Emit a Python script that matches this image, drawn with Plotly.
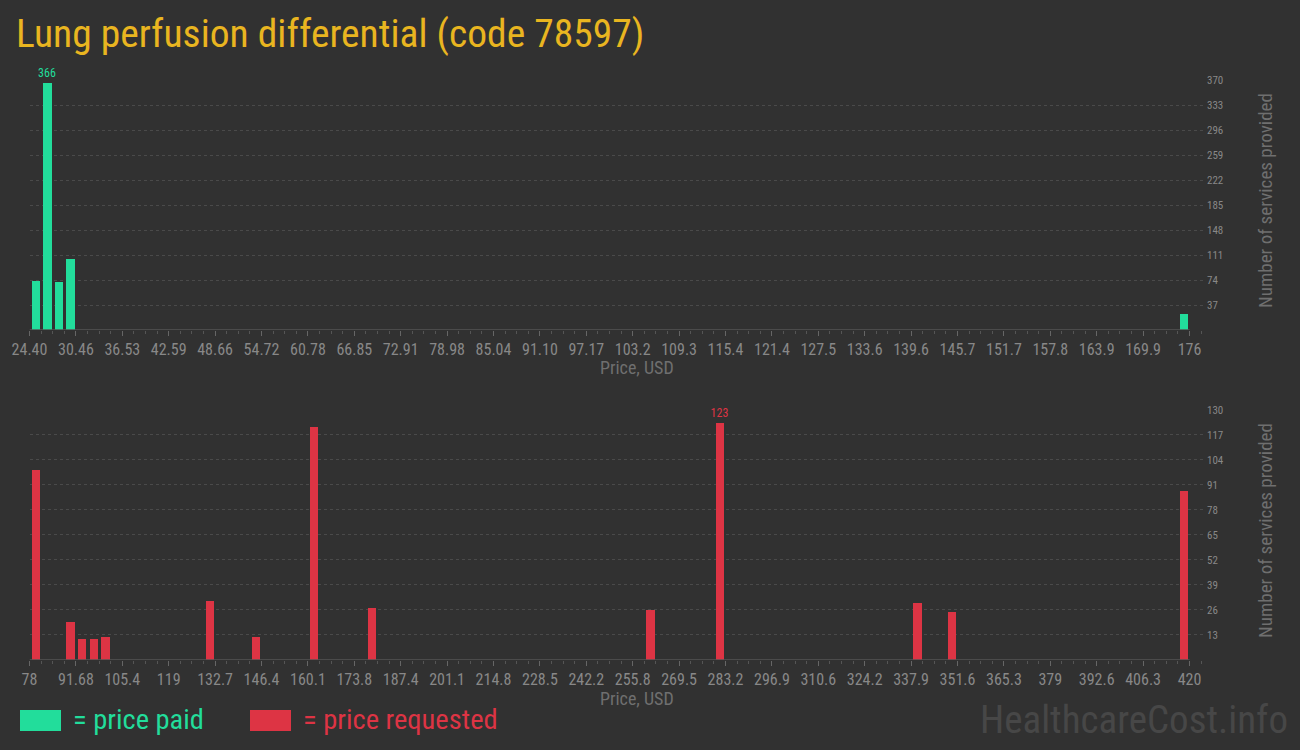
import numpy as np
import plotly.graph_objects as go

# ---------------- data ----------------
title_text = "Lung perfusion differential (code 78597)"

paid_price = [25.16, 26.67, 28.19, 29.71, 175.24]
paid_count = [72, 366, 71, 105, 24]

req_price = [79.71, 89.97, 93.39, 96.81, 100.23, 131.01, 144.69, 161.79,
             178.89, 260.97, 281.49, 339.63, 349.89, 418.29]
req_count = [99, 20, 11, 11, 12, 31, 12, 121, 27, 26, 123, 30, 25, 88]

paid_ticklabels = ["24.40", "30.46", "36.53", "42.59", "48.66", "54.72", "60.78",
                   "66.85", "72.91", "78.98", "85.04", "91.10", "97.17", "103.2",
                   "109.3", "115.4", "121.4", "127.5", "133.6", "139.6", "145.7",
                   "151.7", "157.8", "163.9", "169.9", "176"]
req_ticklabels = ["78", "91.68", "105.4", "119", "132.7", "146.4", "160.1", "173.8",
                  "187.4", "201.1", "214.8", "228.5", "242.2", "255.8", "269.5",
                  "283.2", "296.9", "310.6", "324.2", "337.9", "351.6", "365.3",
                  "379", "392.6", "406.3", "420"]
paid_yticks = [37, 74, 111, 148, 185, 222, 259, 296, 333, 370]
req_yticks = [13, 26, 39, 52, 65, 78, 91, 104, 117, 130]

# ---------------- styling ----------------
W, H = 1300, 750
BG = "#313131"
GREEN = "#22dd9b"
RED = "#dd3444"
GOLD = "#e9b520"
TICK = "#888888"
AXT = "#6f6f6f"
GRID = "#4a4a4a"
COND = "Roboto Condensed, Liberation Sans Narrow, DejaVu Sans Condensed, Arial Narrow, Roboto, sans-serif"

def px_x(p):
    return p / W

def px_y(p):
    return 1 - p / H

paid_lo, paid_hi = float(paid_ticklabels[0]), float(paid_ticklabels[-1])
req_lo, req_hi = float(req_ticklabels[0]), float(req_ticklabels[-1])
paid_tickvals = np.linspace(paid_lo, paid_hi, len(paid_ticklabels))
req_tickvals = np.linspace(req_lo, req_hi, len(req_ticklabels))

left_px, axis_end_px, grid_end_px = 29.5, 1189.5, 1206
paid_range_hi = paid_hi + (grid_end_px - axis_end_px) * (paid_hi - paid_lo) / (axis_end_px - left_px)
req_range_hi = req_hi + (grid_end_px - axis_end_px) * (req_hi - req_lo) / (axis_end_px - left_px)

paid_binw = (paid_hi - paid_lo) / 100
req_binw = (req_hi - req_lo) / 100

def max_labels(vals):
    m = max(vals)
    return [str(v) if v == m else "" for v in vals]

fig = go.Figure()
fig.add_trace(go.Bar(x=paid_price, y=paid_count, width=paid_binw * 0.74,
                     marker=dict(color=GREEN, line=dict(width=0)),
                     text=max_labels(paid_count), textposition="outside",
                     constraintext="none",
                     textfont=dict(color=GREEN, size=12, family=COND),
                     cliponaxis=False, xaxis="x", yaxis="y", hoverinfo="x+y"))
fig.add_trace(go.Bar(x=req_price, y=req_count, width=req_binw * 0.74,
                     marker=dict(color=RED, line=dict(width=0)),
                     text=max_labels(req_count), textposition="outside",
                     constraintext="none",
                     textfont=dict(color=RED, size=12, family=COND),
                     cliponaxis=False, xaxis="x2", yaxis="y2", hoverinfo="x+y"))

xdom = [px_x(left_px), px_x(grid_end_px)]

def xaxis_cfg(rng, tv, tl, step, anchor):
    return dict(domain=xdom, range=rng, anchor=anchor, tickmode="array",
                tickvals=tv, ticktext=tl, showgrid=False, zeroline=False,
                showline=False, ticks="outside", ticklen=5, tickcolor="#666666",
                automargin=False,
                tickfont=dict(family=COND, size=16, color=TICK),
                minor=dict(ticks="outside", ticklen=3, tickcolor="#555555",
                           dtick=step / 4, tick0=rng[0], showgrid=False),
                fixedrange=True)

def yaxis_cfg(dom, rng, tv, anchor):
    return dict(domain=dom, range=rng, anchor=anchor, side="right",
                tickmode="array", tickvals=tv, showgrid=True, gridcolor=GRID,
                griddash="3px,3px", gridwidth=1, zeroline=False, showline=False,
                ticks="", automargin=False,
                tickfont=dict(family=COND, size=11, color=TICK),
                fixedrange=True)

fig.update_layout(
    template="none",
    width=W, height=H, paper_bgcolor=BG, plot_bgcolor=BG,
    margin=dict(l=0, r=0, t=0, b=0, pad=0), showlegend=False, bargap=0,
    xaxis=xaxis_cfg([paid_lo, paid_range_hi], paid_tickvals, paid_ticklabels,
                    (paid_hi - paid_lo) / 25, "y"),
    yaxis=yaxis_cfg([px_y(330), px_y(80)], [0, max(paid_yticks)], paid_yticks, "x"),
    xaxis2=xaxis_cfg([req_lo, req_range_hi], req_tickvals, req_ticklabels,
                     (req_hi - req_lo) / 25, "y2"),
    yaxis2=yaxis_cfg([px_y(660), px_y(409.7)], [0, max(req_yticks)], req_yticks, "x2"),
)

# axis baselines (end at last tick)
fig.add_shape(type="line", xref="x", yref="y", x0=paid_lo, x1=paid_hi, y0=0, y1=0,
              line=dict(color="#555555", width=1.5), layer="above")
fig.add_shape(type="line", xref="x2", yref="y2", x0=req_lo, x1=req_hi, y0=0, y1=0,
              line=dict(color="#555555", width=1.5), layer="above")

ann = []
ann.append(dict(text=title_text, x=px_x(14), y=px_y(33), xref="paper", yref="paper",
                xanchor="left", yanchor="middle", showarrow=False,
                font=dict(family=COND, size=39.5, color=GOLD)))
for cy in (201, 531):
    ann.append(dict(text="Number of services provided", x=px_x(1265), y=px_y(cy),
                    xref="paper", yref="paper", textangle=-90, showarrow=False,
                    xanchor="center", yanchor="middle",
                    font=dict(family=COND, size=19, color=AXT)))
for cy in (368, 698):
    ann.append(dict(text="Price, USD", x=px_x(637), y=px_y(cy), xref="paper",
                    yref="paper", showarrow=False, xanchor="center", yanchor="middle",
                    font=dict(family=COND, size=18, color=AXT)))
# legend
for x0, col, label in ((20, GREEN, "= price paid"), (250, RED, "= price requested")):
    fig.add_shape(type="rect", xref="paper", yref="paper", x0=px_x(x0), x1=px_x(x0 + 41),
                  y0=px_y(731), y1=px_y(710), fillcolor=col, line=dict(width=0))
    ann.append(dict(text=label, x=px_x(x0 + 51), y=px_y(719), xref="paper", yref="paper",
                    xanchor="left", yanchor="middle", showarrow=False,
                    font=dict(family="Roboto Condensed, Roboto, sans-serif", size=28.5, color=col)))
ann.append(dict(text="HealthcareCost.info", x=px_x(1290), y=px_y(720), xref="paper",
                yref="paper", xanchor="right", yanchor="middle", showarrow=False,
                font=dict(family=COND, size=39, color="#474747")))
fig.update_layout(annotations=ann)

fig.write_html("out.html", config={"displayModeBar": False},
               post_script="document.body.style.margin='0';")
